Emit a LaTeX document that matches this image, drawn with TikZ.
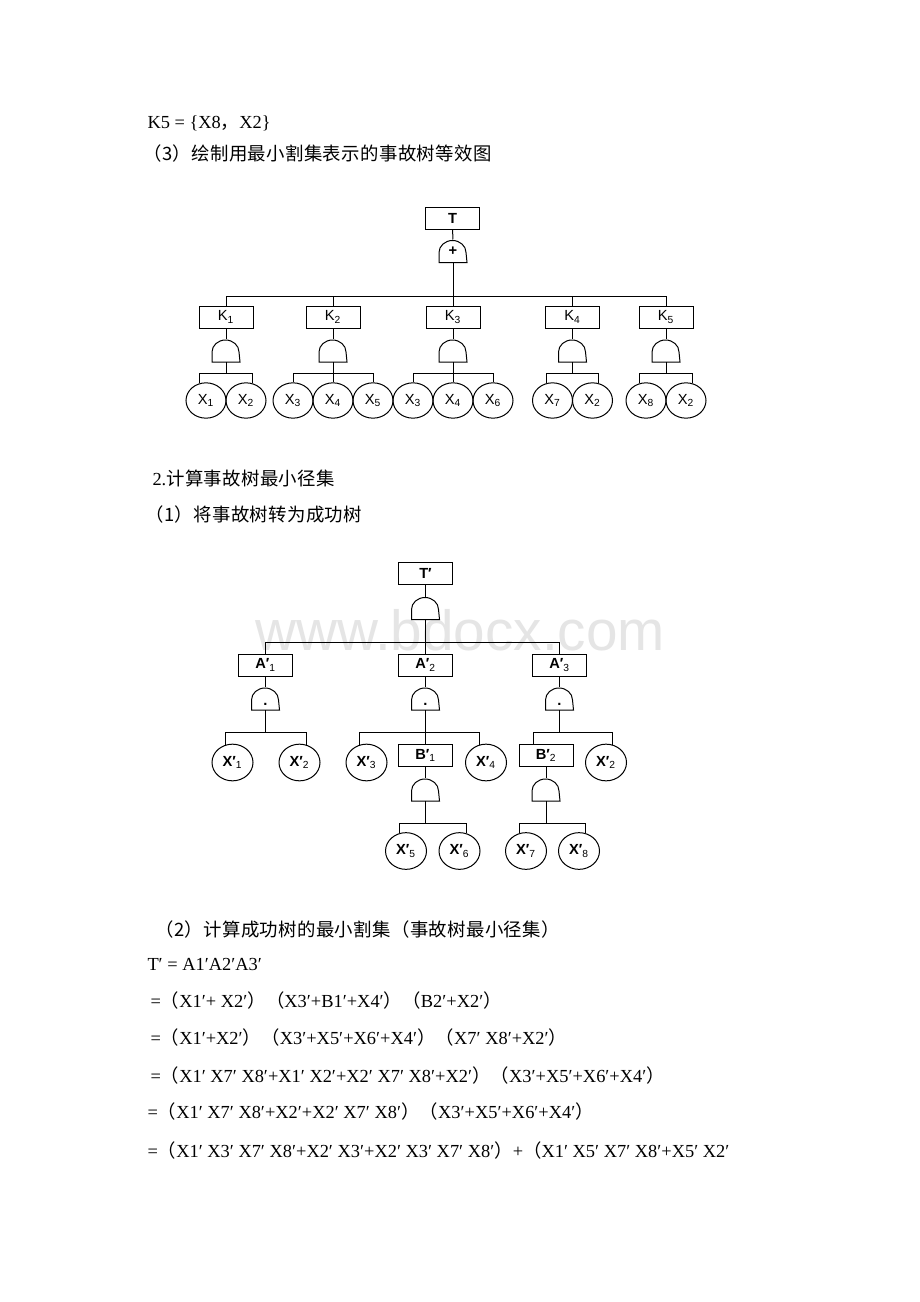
\documentclass[tikz,border=0pt]{standalone}
\usepackage{fontspec}
\setmainfont{Liberation Serif}
\setsansfont{Liberation Sans}
\newfontfamily\cjk[LetterSpace=2]{Noto Sans CJK SC}
\usepackage{tikz}
\usetikzlibrary{shapes.geometric}

\newcommand{\lp}{{\cjk （}}
\newcommand{\rp}{{\cjk ）}}

\tikzset{
  txt/.style={anchor=base west, inner sep=0pt, font=\fontsize{13.8}{16}\selectfont},
  evbox/.style={draw, rectangle, minimum width=40.5pt, minimum height=16.5pt, inner sep=0pt, font=\sffamily\fontsize{11}{13}\selectfont},
  basic/.style={draw, ellipse, minimum width=30pt, minimum height=26.5pt, inner sep=0pt, font=\sffamily\fontsize{11}{13}\selectfont},
  basicp/.style={basic, minimum width=30.75pt, minimum height=27.5pt, font=\sffamily\bfseries\fontsize{11}{13}\selectfont},
  gatebox/.style={rectangle, minimum width=20.25pt, minimum height=16.5pt, inner sep=0pt, font=\sffamily\bfseries\fontsize{11}{12}\selectfont},
}

% gate: name, x, y, symbol
\newcommand{\ftgate}[4]{%
  \node[gatebox] (#1) at (#2,#3) {#4};
  \draw (#1.south west) -- ++(0,-10) arc[start angle=180, end angle=360, x radius=13.5, y radius=12] -- (#1.south east) -- cycle;
}
\newcommand{\sbs}[1]{\textsubscript{\mdseries #1}}

\begin{document}
\begin{tikzpicture}[x=0.75pt,y=0.75pt,yscale=-1,xscale=1, line width=0.75pt]
\path[use as bounding box, fill=white] (0,0) rectangle (920,1302);

% Watermark
\node[anchor=base west, inner sep=0pt, font=\sffamily\fontsize{42.5}{46}\selectfont, text=black!10] (wm) at (255,650) {www.bdocx.com};

% Text Node
\node[txt] (l1) at (147,129) {K5 = \{X8{\cjk ，}X2\}};
\node[txt] (l2) at (143,161) {\cjk （3）绘制用最小割集表示的事故树等效图};

%Tree: minimal cut sets
\node[evbox] (t) at (452.5,218) {\bfseries T};
\ftgate{or}{453}{251}{+}
\draw (t) -- (or);

\node[evbox] (k1) at (226,317) {K\sbs{1}};
\node[evbox] (k2) at (333,317) {K\sbs{2}};
\node[evbox] (k3) at (453,317) {K\sbs{3}};
\node[evbox] (k4) at (572.5,317) {K\sbs{4}};
\node[evbox] (k5) at (666,317) {K\sbs{5}};
\draw (or.south) -- ++(0,34) -| (k1.north);
\draw (or.south) -- ++(0,34) -| (k2.north);
\draw (or.south) -- (k3.north);
\draw (or.south) -- ++(0,34) -| (k4.north);
\draw (or.south) -- ++(0,34) -| (k5.north);

\ftgate{gk1}{226}{350.5}{}
\ftgate{gk2}{333}{350.5}{}
\ftgate{gk3}{453}{350.5}{}
\ftgate{gk4}{572.5}{350.5}{}
\ftgate{gk5}{666}{350.5}{}
\draw (k1) -- (gk1);
\draw (k2) -- (gk2);
\draw (k3) -- (gk3);
\draw (k4) -- (gk4);
\draw (k5) -- (gk5);

\node[basic] (x11) at (206,400.5) {X\sbs{1}};
\node[basic] (x12) at (246,400.5) {X\sbs{2}};
\node[basic] (x23) at (293,400.5) {X\sbs{3}};
\node[basic] (x24) at (333,400.5) {X\sbs{4}};
\node[basic] (x25) at (373,400.5) {X\sbs{5}};
\node[basic] (x33) at (413,400.5) {X\sbs{3}};
\node[basic] (x34) at (453,400.5) {X\sbs{4}};
\node[basic] (x36) at (493,400.5) {X\sbs{6}};
\node[basic] (x47) at (552.5,400.5) {X\sbs{7}};
\node[basic] (x42) at (592.5,400.5) {X\sbs{2}};
\node[basic] (x58) at (646,400.5) {X\sbs{8}};
\node[basic] (x52) at (686,400.5) {X\sbs{2}};
\draw (gk1.south) -- ++(0,11.5) -| (x11.110);
\draw (gk1.south) -- ++(0,11.5) -| (x12.70);
\draw (gk2.south) -- ++(0,11.5) -| (x23.north);
\draw (gk2.south) -- (x24.north);
\draw (gk2.south) -- ++(0,11.5) -| (x25.north);
\draw (gk3.south) -- ++(0,11.5) -| (x33.north);
\draw (gk3.south) -- (x34.north);
\draw (gk3.south) -- ++(0,11.5) -| (x36.north);
\draw (gk4.south) -- ++(0,11.5) -| (x47.110);
\draw (gk4.south) -- ++(0,11.5) -| (x42.70);
\draw (gk5.south) -- ++(0,11.5) -| (x58.110);
\draw (gk5.south) -- ++(0,11.5) -| (x52.70);

% Text Node
\node[txt] (l3) at (152,485) {2.{\cjk 计算事故树最小径集}};
\node[txt] (l4) at (145,521) {\cjk （1）将事故树转为成功树};

%Tree: success tree
\node[evbox] (tp) at (425.5,573.5) {\bfseries T′};
\ftgate{gtp}{425.5}{608}{}
\draw (tp) -- (gtp);

\node[evbox] (a1) at (265.5,665) {\bfseries A′\sbs{1}};
\node[evbox] (a2) at (425.5,665) {\bfseries A′\sbs{2}};
\node[evbox] (a3) at (559.5,665) {\bfseries A′\sbs{3}};
\draw (gtp.south) -- ++(0,23) -| (a1.north);
\draw (gtp.south) -- (a2.north);
\draw (gtp.south) -- ++(0,23) -| (a3.north);

\ftgate{ga1}{265.5}{698.5}{\rule{0pt}{11pt}.}
\ftgate{ga2}{425.5}{698.5}{\rule{0pt}{11pt}.}
\ftgate{ga3}{559.5}{698.5}{\rule{0pt}{11pt}.}
\draw (a1) -- (ga1);
\draw (a2) -- (ga2);
\draw (a3) -- (ga3);

\node[basicp] (y1) at (232.5,762.5) {X′\sbs{1}};
\node[basicp] (y2) at (299.5,762.5) {X′\sbs{2}};
\node[basicp] (y3) at (366.5,762.5) {X′\sbs{3}};
\node[evbox] (b1) at (425.5,755.5) {\bfseries B′\sbs{1}};
\node[basicp] (y4) at (486,762.5) {X′\sbs{4}};
\node[evbox] (b2) at (546,755.5) {\bfseries B′\sbs{2}};
\node[basicp] (y2b) at (606,762.5) {X′\sbs{2}};
\draw (ga1.south) -- ++(0,22.5) -| (y1.110);
\draw (ga1.south) -- ++(0,22.5) -| (y2.70);
\draw (ga2.south) -- ++(0,22.5) -| (y3.110);
\draw (ga2.south) -- (b1.north);
\draw (ga2.south) -- ++(0,22.5) -| (y4.110);
\draw (ga3.south) -- ++(0,22.5) -| ([xshift=-9.75pt]b2.north);
\draw (ga3.south) -- ++(0,22.5) -| (y2b.70);

\ftgate{gb1}{425.5}{789.5}{}
\ftgate{gb2}{546}{789.5}{}
\draw (b1) -- (gb1);
\draw (b2) -- (gb2);

\node[basicp] (y5) at (406,851) {X′\sbs{5}};
\node[basicp] (y6) at (459.5,851) {X′\sbs{6}};
\node[basicp] (y7) at (526,851) {X′\sbs{7}};
\node[basicp] (y8) at (579,851) {X′\sbs{8}};
\draw (gb1.south) -- ++(0,22.5) -| (y5.110);
\draw (gb1.south) -- ++(0,22.5) -| (y6.70);
\draw (gb2.south) -- ++(0,22.5) -| (y7.110);
\draw (gb2.south) -- ++(0,22.5) -| (y8.70);

% Text Node
\node[txt] (l5) at (155,936) {\cjk （2）计算成功树的最小割集（事故树最小径集）};
\node[txt] (l6) at (147,970) {T′ = A1′A2′A3′};
\node[txt] (l7) at (150,1007) {=\lp X1′+ X2′\rp\lp X3′+B1′+X4′\rp\lp B2′+X2′\rp};
\node[txt] (l8) at (150,1044) {=\lp X1′+X2′\rp\lp X3′+X5′+X6′+X4′\rp\lp X7′ X8′+X2′\rp};
\node[txt] (l9) at (150,1082) {=\lp X1′ X7′ X8′+X1′ X2′+X2′ X7′ X8′+X2′\rp\lp X3′+X5′+X6′+X4′\rp};
\node[txt] (l10) at (147,1118) {=\lp X1′ X7′ X8′+X2′+X2′ X7′ X8′\rp\lp X3′+X5′+X6′+X4′\rp};
\node[txt] (l11) at (147,1157) {=\lp X1′ X3′ X7′ X8′+X2′ X3′+X2′ X3′ X7′ X8′\rp+\lp X1′ X5′ X7′ X8′+X5′ X2′};
\end{tikzpicture}
\end{document}
